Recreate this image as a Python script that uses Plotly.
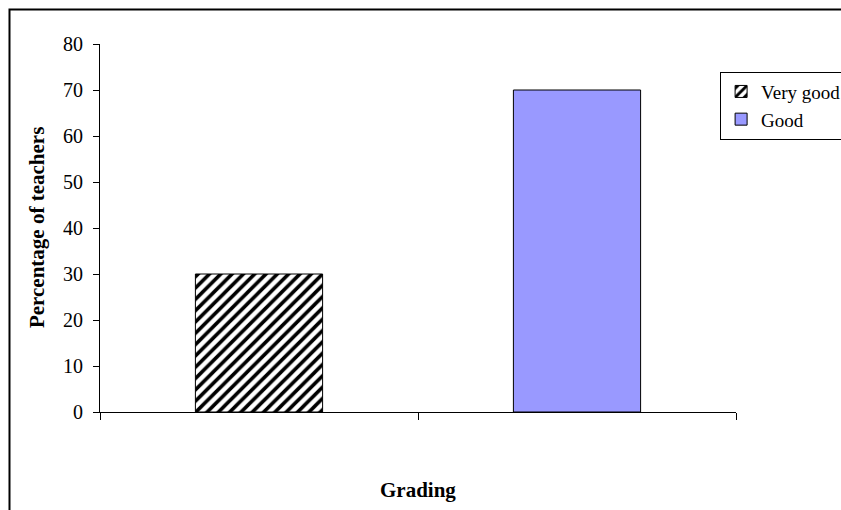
import plotly.graph_objects as go

# Grading of teachers: share of respondents per grade (percent)
grades = ["Very good", "Good"]
percentages = [30, 70]
y_ticks = [0, 10, 20, 30, 40, 50, 60, 70, 80]

FONT = "Liberation Serif, Times New Roman, serif"

fig = go.Figure()

# hatched bar for "Very good"
fig.add_trace(go.Bar(
    x=[grades[0]], y=[percentages[0]], name=grades[0],
    width=0.40,
    marker=dict(
        color="white",
        line=dict(color="black", width=1),
        pattern=dict(shape="/", fgcolor="black", bgcolor="white",
                     fgopacity=1, size=8, solidity=0.45, fillmode="replace"),
    ),
))
# solid lavender bar for "Good"
fig.add_trace(go.Bar(
    x=[grades[1]], y=[percentages[1]], name=grades[1],
    width=0.40,
    marker=dict(color="#9999FF", line=dict(color="black", width=1)),
))

fig.update_layout(
    width=841, height=510,
    margin=dict(l=100, r=105, t=44, b=98, autoexpand=False),
    paper_bgcolor="white", plot_bgcolor="white",
    barmode="overlay",
    font=dict(family=FONT, size=20, color="black"),
    showlegend=True,
    legend=dict(
        x=0.975, y=0.925, xanchor="left", yanchor="top",
        bordercolor="black", borderwidth=1, bgcolor="white",
        font=dict(family=FONT, size=19, color="black"),
        tracegroupgap=0, itemwidth=30,
    ),
    xaxis=dict(
        type="category", range=[-0.5, 1.5],
        showticklabels=False, showgrid=False, zeroline=False,
        showline=True, linecolor="black", linewidth=1,
        ticks="outside", ticklen=7, tickcolor="black", tickson="boundaries",
    ),
    yaxis=dict(
        range=[0, 80], tickvals=y_ticks, showgrid=False, zeroline=False,
        showline=True, linecolor="black", linewidth=1,
        ticks="outside", ticklen=6, tickcolor="black",
        ticklabelstandoff=6,
        tickfont=dict(family=FONT, size=20, color="black"),
    ),
    annotations=[
        dict(text="<b>Grading</b>", xref="paper", yref="paper",
             x=0.5, y=-0.212, xanchor="center", yanchor="middle",
             showarrow=False, font=dict(family=FONT, size=21)),
        dict(text="<b>Percentage of teachers</b>", xref="paper", yref="paper",
             x=-0.099, y=0.5, xanchor="center", yanchor="middle",
             textangle=-90, showarrow=False, font=dict(family=FONT, size=21)),
    ],
    shapes=[
        # frame around the chart area
        dict(type="rect", xref="paper", yref="paper",
             x0=-0.1423, y0=-0.3, x1=1.2, y1=1.0938,
             line=dict(color="black", width=2), fillcolor="rgba(0,0,0,0)",
             layer="below"),
    ],
)

fig.write_html("out.html")
